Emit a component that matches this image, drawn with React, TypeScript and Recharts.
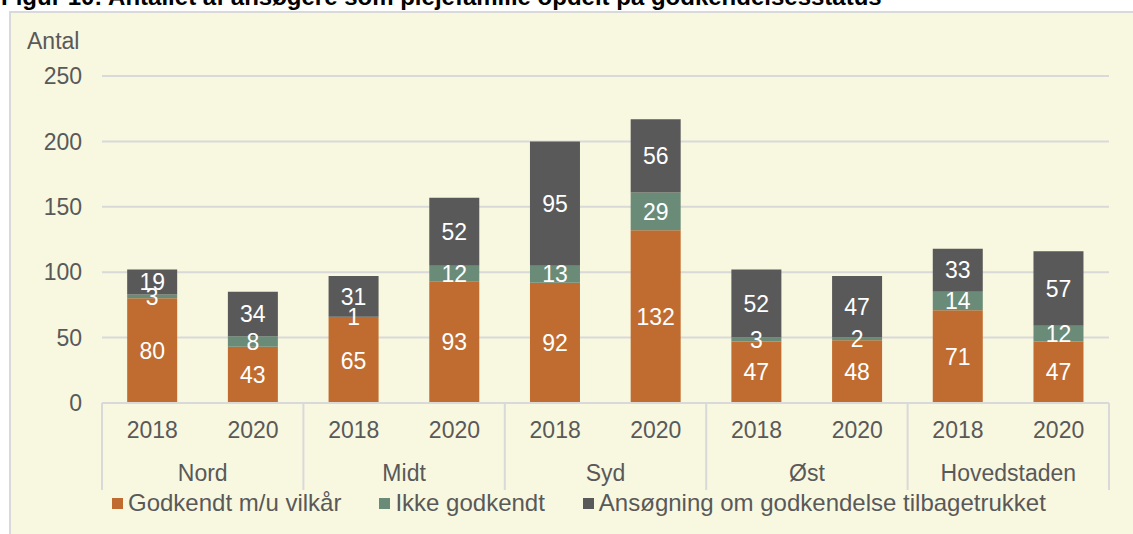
import React from 'react';
import { BarChart, Bar, XAxis, YAxis, CartesianGrid, LabelList, Legend } from 'recharts';

const regions = ['Nord', 'Midt', 'Syd', 'Øst', 'Hovedstaden'];
const years = ['2018', '2020'];
const godkendt = [80, 43, 65, 93, 92, 132, 47, 48, 71, 47];
const ikkeGodkendt = [3, 8, 1, 12, 13, 29, 3, 2, 14, 12];
const tilbagetrukket = [19, 34, 31, 52, 95, 56, 52, 47, 33, 57];
const yTicks = [0, 50, 100, 150, 200, 250];
const seriesNames = ['Godkendt m/u vilkår', 'Ikke godkendt', 'Ansøgning om godkendelse tilbagetrukket'];
const seriesColors = ['#C06C30', '#6A8B78', '#595959'];
const titleText = 'Figur 10: Antallet af ansøgere som plejefamilie opdelt på godkendelsesstatus';
const yLabel = 'Antal';

const FONT = '"Liberation Sans", Arial, Helvetica, sans-serif';
const TEXT = '#595959';
const GRID = '#D9D9D9';
const BG = '#F8F7E0';

const data = godkendt.map((g, i) => ({
  cat: `${regions[Math.floor(i / 2)]} ${years[i % 2]}`,
  year: years[i % 2],
  region: regions[Math.floor(i / 2)],
  g,
  ik: ikkeGodkendt[i],
  t: tilbagetrukket[i],
}));

const XTick = (props: any) => {
  const { x, y, payload, index } = props;
  const d = data[index];
  if (!d) return null;
  const half = payload && typeof payload.offset === 'number' ? payload.offset : 0;
  const isFirst = index % 2 === 0;
  const isLast = index === data.length - 1;
  return (
    <g>
      <text x={x} y={y + 35} textAnchor="middle" fill={TEXT} fontSize={23} fontFamily={FONT}>
        {d.year}
      </text>
      {!isFirst && (
        <text x={x - half} y={y + 78} textAnchor="middle" fill={TEXT} fontSize={23} fontFamily={FONT}>
          {d.region}
        </text>
      )}
      {isFirst && <line x1={x - half} x2={x - half} y1={y} y2={y + 87} stroke={GRID} strokeWidth={2} />}
      {isLast && <line x1={x + half} x2={x + half} y1={y} y2={y + 87} stroke={GRID} strokeWidth={2} />}
    </g>
  );
};

const LegendContent = (props: any) => {
  const payload = [...(props.payload || [])].sort(
    (a: any, b: any) => seriesNames.indexOf(a.value) - seriesNames.indexOf(b.value)
  );
  return (
    <div style={{ display: 'flex', fontFamily: FONT, fontSize: 24, color: TEXT, lineHeight: '26px', whiteSpace: 'nowrap' }}>
      {payload.map((p: any, i: number) => (
        <div key={i} style={{ display: 'flex', alignItems: 'center', marginRight: 38 }}>
          <span style={{ display: 'inline-block', width: 11, height: 11, background: p.color, marginRight: 5 }} />
          <span>{p.value}</span>
        </div>
      ))}
    </div>
  );
};

export default function App() {
  return (
    <div style={{ position: 'absolute', left: 0, top: 0, width: 1133, height: 534, overflow: 'hidden', background: '#FFFFFF' }}>
      <div
        style={{
          position: 'absolute', left: 1, top: -17, fontFamily: FONT, fontWeight: 'bold', fontSize: 24,
          color: '#000', whiteSpace: 'nowrap',
        }}
      >
        {titleText}
      </div>
      <div
        style={{
          position: 'absolute', left: 9, top: 11, width: 1150, height: 560,
          border: `2px solid ${GRID}`, background: BG,
        }}
      />
      <div style={{ position: 'absolute', left: 27, top: 28, fontFamily: FONT, fontSize: 23, color: TEXT, lineHeight: 'normal' }}>
        {yLabel}
      </div>
      <div style={{ position: 'absolute', left: 0, top: 0 }}>
        <BarChart width={1133} height={534} data={data} margin={{ top: 76, right: 24, bottom: 0, left: 0 }} barCategoryGap="25%">
          <CartesianGrid vertical={false} stroke={GRID} strokeWidth={2} />
          <XAxis
            dataKey="cat"
            interval={0}
            height={131}
            tickSize={0}
            tickMargin={0}
            tickLine={false}
            axisLine={{ stroke: GRID, strokeWidth: 2 }}
            tick={<XTick />}
          />
          <YAxis
            width={102}
            domain={[0, 250]}
            ticks={yTicks}
            axisLine={false}
            tickLine={false}
            tickSize={0}
            tickMargin={20}
            tick={{ fill: TEXT, fontSize: 23, fontFamily: FONT }}
          />
          <Legend
            layout="horizontal"
            verticalAlign="middle"
            align="center"
            wrapperStyle={{ left: 112, top: 490, width: 1000 }}
            content={<LegendContent />}
          />
          <Bar dataKey="g" name={seriesNames[0]} stackId="a" fill={seriesColors[0]} isAnimationActive={false}>
            <LabelList dataKey="g" position="center" fill="#FFFFFF" fontSize={23} fontFamily={FONT} />
          </Bar>
          <Bar dataKey="ik" name={seriesNames[1]} stackId="a" fill={seriesColors[1]} isAnimationActive={false}>
            <LabelList dataKey="ik" position="center" fill="#FFFFFF" fontSize={23} fontFamily={FONT} />
          </Bar>
          <Bar dataKey="t" name={seriesNames[2]} stackId="a" fill={seriesColors[2]} isAnimationActive={false}>
            <LabelList dataKey="t" position="center" fill="#FFFFFF" fontSize={23} fontFamily={FONT} />
          </Bar>
        </BarChart>
      </div>
    </div>
  );
}
